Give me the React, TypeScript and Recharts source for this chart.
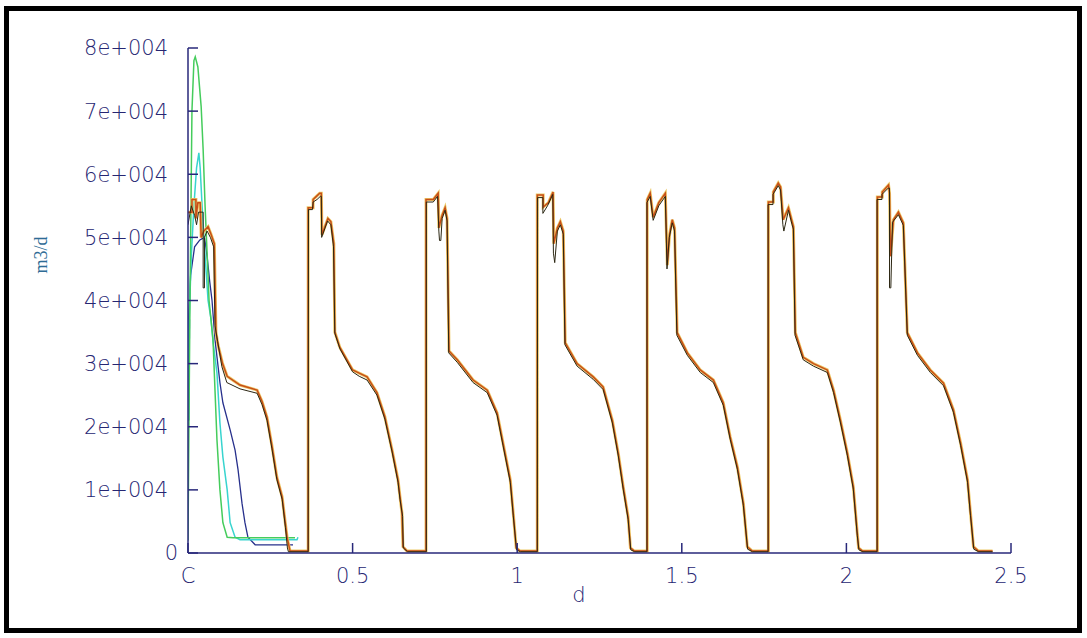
import { LineChart, Line, XAxis, YAxis } from "recharts";

// time axis in d, flow in m3/d
const xTicks = [0, 0.5, 1, 1.5, 2, 2.5];
const xTickLabels = ["C", "0.5", "1", "1.5", "2", "2.5"];
const yTicks = [0, 10000, 20000, 30000, 40000, 50000, 60000, 70000, 80000];
const yTickLabels = ["0", "1e+004", "2e+004", "3e+004", "4e+004", "5e+004", "6e+004", "7e+004", "8e+004"];

// early wells (only first cycle)
const greenFlow = [
  [0, 2000], [0.006, 40000], [0.012, 70000], [0.018, 78000], [0.022, 78600], [0.03, 77000],
  [0.04, 70700], [0.046, 63900], [0.052, 54800], [0.058, 47500], [0.064, 40000], [0.076, 33800],
  [0.082, 25800], [0.088, 17900], [0.097, 10000], [0.106, 4800], [0.119, 2500], [0.137, 2400],
  [0.325, 2400],
];

const cyanFlow = [
  [0, 21000], [0.003, 36000], [0.01, 47000], [0.018, 55000], [0.026, 61000], [0.033, 63400],
  [0.037, 61000], [0.043, 54800], [0.052, 47000], [0.061, 40000], [0.07, 37000], [0.076, 33500],
  [0.088, 28500], [0.097, 20600], [0.106, 15200], [0.119, 10000], [0.128, 4800], [0.143, 2500],
  [0.158, 2100], [0.331, 2100], [0.334, 2500],
];

const navyFlow = [
  [0, 21000], [0.002, 37000], [0.008, 44000], [0.02, 48500], [0.036, 49600], [0.05, 50000],
  [0.058, 47000], [0.066, 43000], [0.073, 40000], [0.082, 33800], [0.097, 27000], [0.106, 23800],
  [0.128, 19500], [0.143, 16300], [0.152, 13200], [0.164, 7900], [0.173, 4800], [0.182, 2500],
  [0.204, 1300], [0.319, 1300],
];

const blueStart = [[0, 21000], [0.002, 37000]];

// main well, repeating cycles
const orangeFlow = [
  [0, 54000], [0.012, 54000], [0.012, 56000], [0.024, 56000], [0.024, 53000], [0.03, 55500],
  [0.037, 55500], [0.04, 50000], [0.048, 51000], [0.061, 51700], [0.07, 50500], [0.08, 49000],
  [0.085, 35000], [0.091, 33000], [0.105, 30000], [0.119, 28000], [0.158, 26600], [0.21, 25800],
  [0.225, 24000], [0.24, 21500], [0.255, 17000], [0.27, 12000], [0.286, 8900], [0.295, 5000],
  [0.301, 2500], [0.31, 300],
  [0.365, 300], [0.365, 54700], [0.38, 54700], [0.38, 56000], [0.39, 56500], [0.4, 57000],
  [0.405, 57000], [0.407, 50400], [0.425, 53000], [0.434, 52500], [0.443, 49000], [0.446, 35000],
  [0.461, 32600], [0.5, 29000], [0.52, 28500], [0.544, 27900], [0.574, 25400], [0.598, 21600],
  [0.62, 16300], [0.638, 11600], [0.644, 8900], [0.65, 6300], [0.653, 1000], [0.665, 300],
  [0.723, 300], [0.723, 56000], [0.745, 56000], [0.76, 57000], [0.762, 51500], [0.772, 53500],
  [0.781, 54700], [0.787, 53000], [0.793, 32000], [0.818, 30600], [0.866, 27400], [0.909, 25800],
  [0.939, 22200], [0.957, 17400], [0.979, 11600], [0.988, 6300], [0.997, 800], [1.009, 300],
  [1.061, 300], [1.061, 56700], [1.079, 56700], [1.079, 54800], [1.095, 55500], [1.109, 57200],
  [1.111, 49000], [1.122, 51500], [1.131, 52500], [1.14, 51000], [1.146, 33300], [1.182, 30000],
  [1.231, 27900], [1.261, 26300], [1.289, 21000], [1.307, 15800], [1.322, 10500], [1.337, 5700],
  [1.344, 800], [1.356, 300],
  [1.395, 300], [1.395, 56000], [1.404, 57000], [1.413, 53200], [1.43, 55500], [1.45, 57000],
  [1.456, 45600], [1.463, 50500], [1.471, 52800], [1.478, 51500], [1.486, 34900], [1.517, 31700],
  [1.556, 29000], [1.596, 27400], [1.626, 23800], [1.647, 18400], [1.669, 13600], [1.687, 7900],
  [1.699, 1000], [1.714, 300],
  [1.763, 300], [1.763, 55600], [1.778, 55600], [1.778, 57200], [1.793, 58600], [1.8, 58000],
  [1.808, 52800], [1.824, 54700], [1.835, 52500], [1.839, 51700], [1.845, 34900], [1.869, 31000],
  [1.9, 30000], [1.942, 29000], [1.961, 25800], [1.982, 21000], [2.003, 15800], [2.021, 10500],
  [2.033, 3200], [2.037, 800], [2.049, 300],
  [2.094, 300], [2.094, 56400], [2.109, 56400], [2.109, 57200], [2.128, 58300], [2.131, 57000],
  [2.134, 47000], [2.143, 52800], [2.158, 54000], [2.173, 52300], [2.185, 34900], [2.216, 31700],
  [2.255, 29000], [2.295, 26900], [2.325, 22700], [2.347, 17400], [2.368, 11600], [2.377, 6300],
  [2.386, 1000], [2.401, 300], [2.444, 300],
];

const darkFlow = [
  [0, 52000], [0.01, 55000], [0.02, 53500], [0.026, 52000], [0.032, 54000], [0.046, 54000],
  [0.046, 42000], [0.05, 42000], [0.05, 50000], [0.058, 51000], [0.068, 50000], [0.078, 48500],
  [0.082, 36000], [0.09, 33500], [0.103, 29500], [0.118, 27000], [0.158, 26000], [0.21, 25300],
  [0.225, 23500], [0.24, 21000], [0.255, 16500], [0.27, 11600], [0.286, 8500], [0.296, 4000],
  [0.302, 800], [0.305, 200],
  [0.365, 200], [0.366, 54400], [0.378, 54400], [0.38, 55600], [0.392, 56000], [0.402, 56500],
  [0.405, 56500], [0.406, 50000], [0.424, 52600], [0.434, 52000], [0.442, 48500], [0.446, 34800],
  [0.462, 32300], [0.5, 28700], [0.52, 28000], [0.544, 27400], [0.574, 25000], [0.598, 21200],
  [0.62, 16000], [0.638, 11200], [0.644, 8500], [0.652, 5800], [0.654, 800], [0.667, 200],
  [0.724, 200], [0.724, 55600], [0.745, 55600], [0.758, 56500], [0.762, 51000], [0.764, 49500],
  [0.768, 49500], [0.772, 53000], [0.781, 54300], [0.787, 52600], [0.792, 31700], [0.818, 30200],
  [0.866, 27000], [0.909, 25400], [0.939, 21800], [0.957, 17000], [0.979, 11200], [0.988, 5900],
  [0.998, 500], [1.01, 200],
  [1.061, 200], [1.062, 56300], [1.078, 56300], [1.078, 53800], [1.092, 55000], [1.108, 56800],
  [1.11, 47500], [1.114, 46000], [1.122, 51000], [1.131, 52000], [1.14, 50500], [1.145, 33000],
  [1.182, 29600], [1.231, 27500], [1.261, 25900], [1.289, 20600], [1.307, 15400], [1.322, 10100],
  [1.337, 5300], [1.345, 500], [1.357, 200],
  [1.394, 200], [1.394, 55500], [1.404, 56500], [1.413, 52700], [1.43, 55000], [1.45, 56500],
  [1.455, 45000], [1.462, 50000], [1.471, 52300], [1.478, 51000], [1.485, 34500], [1.517, 31300],
  [1.556, 28600], [1.596, 27000], [1.626, 23400], [1.647, 18000], [1.669, 13200], [1.687, 7500],
  [1.7, 600], [1.715, 200],
  [1.762, 200], [1.762, 55200], [1.777, 55200], [1.777, 56800], [1.793, 58200], [1.8, 57500],
  [1.807, 52000], [1.81, 51000], [1.824, 54300], [1.835, 52000], [1.839, 51300], [1.844, 34500],
  [1.869, 30600], [1.9, 29600], [1.942, 28600], [1.961, 25400], [1.982, 20600], [2.003, 15400],
  [2.021, 10100], [2.033, 2800], [2.038, 500], [2.05, 200],
  [2.093, 200], [2.093, 56000], [2.108, 56000], [2.108, 56800], [2.127, 57800], [2.131, 57800],
  [2.131, 42000], [2.135, 42000], [2.14, 52400], [2.158, 53600], [2.173, 51900], [2.185, 34500],
  [2.216, 31300], [2.255, 28600], [2.295, 26500], [2.325, 22300], [2.347, 17000], [2.368, 11200],
  [2.377, 5900], [2.387, 600], [2.402, 200], [2.444, 200],
];

const toPts = (arr: number[][]) => arr.map(([x, y]) => ({ x, y }));

const AXIS = "#28287a";
const TXT = "#262672";

function YTick(props: any) {
  const { x, y, payload } = props;
  const i = yTicks.indexOf(payload.value);
  return (
    <text
      x={x + (payload.value === 0 ? 10 : 0)}
      y={y}
      dy="0.355em"
      textAnchor="end"
      fill={TXT}
      fontSize={21}
      fontWeight={200}
      fontFamily="DejaVu Sans, sans-serif"
    >
      {yTickLabels[i]}
    </text>
  );
}

export default function App() {
  const lineProps = {
    dataKey: "y",
    type: "linear" as const,
    dot: false,
    activeDot: false,
    isAnimationActive: false,
  };

  return (
    <div style={{ position: "absolute", left: 0, top: 0, width: 1087, height: 638, background: "#fff" }}>
      <div
        style={{
          position: "absolute",
          left: 4,
          top: 6,
          width: 1068,
          height: 617,
          border: "5px solid #000",
        }}
      />
      <LineChart
        width={1087}
        height={638}
        margin={{ top: 48, right: 76, bottom: 35, left: 68 }}
        style={{ position: "absolute", left: 0, top: 0 }}
      >
        <XAxis
          dataKey="x"
          type="number"
          domain={[0, 2.5]}
          ticks={xTicks}
          tickFormatter={(v: number) => xTickLabels[xTicks.indexOf(v)]}
          allowDataOverflow
          height={50}
          tickSize={-10}
          tickMargin={25}
          axisLine={{ stroke: AXIS, strokeWidth: 1.5 }}
          tickLine={{ stroke: AXIS, strokeWidth: 1.5 }}
          tick={{ fill: TXT, fontSize: 21, fontWeight: 200, fontFamily: "DejaVu Sans, sans-serif" }}
        />
        <YAxis
          type="number"
          domain={[0, 80000]}
          ticks={yTicks}
          allowDataOverflow
          width={120}
          tickSize={-10}
          tickMargin={30}
          axisLine={{ stroke: AXIS, strokeWidth: 1.5 }}
          tickLine={{ stroke: AXIS, strokeWidth: 1.5 }}
          tick={<YTick />}
        />
        <Line {...lineProps} data={toPts(navyFlow)} stroke="#27308c" strokeWidth={1.3} />
        <Line {...lineProps} data={toPts(blueStart)} stroke="#1c62c4" strokeWidth={3} />
        <Line {...lineProps} data={toPts(cyanFlow)} stroke="#38d4cf" strokeWidth={1.5} />
        <Line {...lineProps} data={toPts(greenFlow)} stroke="#45cc5c" strokeWidth={1.5} />
        <Line {...lineProps} data={toPts(orangeFlow)} stroke="#ecc968" strokeWidth={3} />
        <Line {...lineProps} data={toPts(orangeFlow)} stroke="#c84e18" strokeWidth={1.5} />
        <Line {...lineProps} data={toPts(darkFlow)} stroke="#2b2612" strokeWidth={1} />
      </LineChart>
      <div
        style={{
          position: "absolute",
          left: 41,
          top: 255,
          transform: "translate(-50%, -50%) rotate(-90deg)",
          fontFamily: "Liberation Serif, serif",
          fontSize: 18,
          color: "#2e6b95",
          whiteSpace: "nowrap",
        }}
      >
        m3/d
      </div>
      <div
        style={{
          position: "absolute",
          left: 579,
          top: 595,
          transform: "translate(-50%, -50%)",
          fontFamily: "DejaVu Sans, sans-serif",
          fontWeight: 200,
          fontSize: 21,
          color: TXT,
        }}
      >
        d
      </div>
    </div>
  );
}
